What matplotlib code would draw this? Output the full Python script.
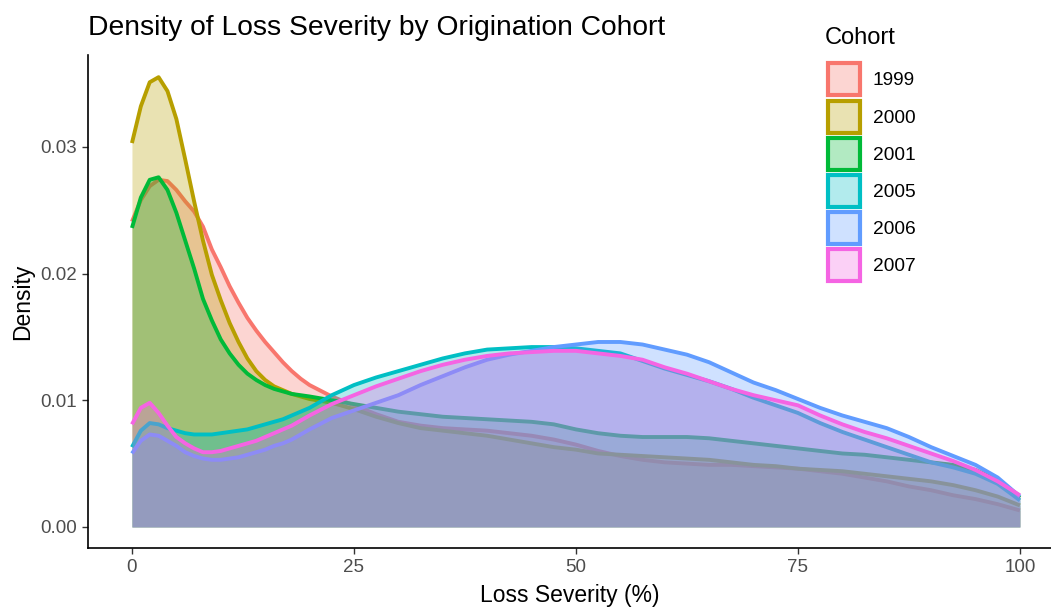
import matplotlib
matplotlib.use("Agg")
import matplotlib.pyplot as plt
import matplotlib.colors as mcolors
from matplotlib.patches import Patch

plt.rcParams['font.family'] = ['Liberation Sans', 'DejaVu Sans']

# ---- data ----
loss_severity = [0, 1, 2, 3, 4, 5, 6, 7, 8, 9, 10, 11, 12, 13, 14, 15, 16, 17, 18, 19, 20,
                 22.5, 25, 27.5, 30, 32.5, 35, 37.5, 40, 42.5, 45, 47.5, 50, 52.5, 55, 57.5,
                 60, 62.5, 65, 67.5, 70, 72.5, 75, 77.5, 80, 82.5, 85, 87.5, 90, 92.5, 95,
                 97.5, 100]

cohorts = ["1999", "2000", "2001", "2005", "2006", "2007"]

density_1999 = [0.0241, 0.0258, 0.0269, 0.0274, 0.0273, 0.0266, 0.0257, 0.0249, 0.0237, 0.0219,
                0.0205, 0.0190, 0.0177, 0.0165, 0.0155, 0.0146, 0.0138, 0.0130, 0.0123, 0.0117,
                0.0112, 0.0103, 0.0096, 0.0089, 0.0083, 0.0080, 0.0078, 0.0077, 0.0076, 0.0074,
                0.0072, 0.0069, 0.0065, 0.0060, 0.0056, 0.0053, 0.0051, 0.0050, 0.0049, 0.0049,
                0.0048, 0.0047, 0.0046, 0.0044, 0.0042, 0.0039, 0.0036, 0.0032, 0.0029, 0.0025,
                0.0022, 0.0018, 0.0013]

density_2000 = [0.0303, 0.0332, 0.0351, 0.0355, 0.0344, 0.0322, 0.0290, 0.0257, 0.0226, 0.0199,
                0.0179, 0.0161, 0.0146, 0.0133, 0.0123, 0.0116, 0.0111, 0.0108, 0.0105, 0.0103,
                0.0101, 0.0098, 0.0093, 0.0087, 0.0082, 0.0078, 0.0076, 0.0074, 0.0072, 0.0069,
                0.0066, 0.0063, 0.0061, 0.0058, 0.0057, 0.0056, 0.0055, 0.0054, 0.0053, 0.0051,
                0.0049, 0.0048, 0.0046, 0.0045, 0.0044, 0.0042, 0.0040, 0.0038, 0.0036, 0.0033,
                0.0029, 0.0024, 0.0017]

density_2001 = [0.0236, 0.0260, 0.0274, 0.0276, 0.0266, 0.0248, 0.0226, 0.0204, 0.0180, 0.0163,
                0.0148, 0.0137, 0.0128, 0.0121, 0.0116, 0.0112, 0.0109, 0.0107, 0.0105, 0.0104,
                0.0103, 0.0100, 0.0097, 0.0094, 0.0091, 0.0089, 0.0087, 0.0086, 0.0085, 0.0084,
                0.0083, 0.0081, 0.0077, 0.0074, 0.0072, 0.0071, 0.0071, 0.0071, 0.0070, 0.0068,
                0.0066, 0.0064, 0.0062, 0.0060, 0.0058, 0.0057, 0.0055, 0.0053, 0.0051, 0.0049,
                0.0045, 0.0037, 0.0023]

density_2005 = [0.0063, 0.0076, 0.0082, 0.0081, 0.0078, 0.0076, 0.0074, 0.0073, 0.0073, 0.0073,
                0.0074, 0.0075, 0.0076, 0.0077, 0.0079, 0.0081, 0.0083, 0.0085, 0.0088, 0.0091,
                0.0094, 0.0104, 0.0112, 0.0118, 0.0123, 0.0128, 0.0133, 0.0137, 0.0140, 0.0141,
                0.0142, 0.0142, 0.0141, 0.0139, 0.0137, 0.0131, 0.0125, 0.0120, 0.0115, 0.0109,
                0.0102, 0.0096, 0.0090, 0.0082, 0.0075, 0.0069, 0.0063, 0.0057, 0.0051, 0.0047,
                0.0042, 0.0034, 0.0021]

density_2006 = [0.0058, 0.0068, 0.0073, 0.0072, 0.0068, 0.0064, 0.0059, 0.0056, 0.0054, 0.0053,
                0.0053, 0.0054, 0.0055, 0.0057, 0.0059, 0.0061, 0.0064, 0.0066, 0.0069, 0.0073,
                0.0077, 0.0086, 0.0092, 0.0098, 0.0104, 0.0112, 0.0119, 0.0126, 0.0132, 0.0136,
                0.0139, 0.0142, 0.0144, 0.0146, 0.0146, 0.0144, 0.0140, 0.0136, 0.0130, 0.0122,
                0.0114, 0.0108, 0.0101, 0.0094, 0.0088, 0.0083, 0.0078, 0.0071, 0.0063, 0.0056,
                0.0049, 0.0039, 0.0024]

density_2007 = [0.0081, 0.0094, 0.0098, 0.0090, 0.0080, 0.0071, 0.0066, 0.0062, 0.0059, 0.0059,
                0.0060, 0.0062, 0.0064, 0.0066, 0.0068, 0.0071, 0.0074, 0.0077, 0.0080, 0.0084,
                0.0088, 0.0097, 0.0104, 0.0111, 0.0117, 0.0123, 0.0128, 0.0132, 0.0135, 0.0137,
                0.0138, 0.0139, 0.0139, 0.0137, 0.0135, 0.0132, 0.0126, 0.0121, 0.0115, 0.0109,
                0.0104, 0.0100, 0.0096, 0.0088, 0.0081, 0.0075, 0.0070, 0.0064, 0.0058, 0.0052,
                0.0045, 0.0036, 0.0025]

x_ticks = [0, 25, 50, 75, 100]
x_tick_labels = ["0", "25", "50", "75", "100"]
y_ticks = [0.00, 0.01, 0.02, 0.03]
y_tick_labels = ["0.00", "0.01", "0.02", "0.03"]

colors = ["#F8766D", "#B79F00", "#00BA38", "#00BFC4", "#619CFF", "#F564E3"]
series = [density_1999, density_2000, density_2001, density_2005, density_2006, density_2007]

# ---- figure ----
W, H = 1051, 609
fig = plt.figure(figsize=(W / 100, H / 100), dpi=100)
left_px, right_px, top_px, bottom_px = 88, 1051, 55, 548
ax = fig.add_axes([left_px / W, 1 - bottom_px / H, (right_px - left_px) / W, (bottom_px - top_px) / H])

for i, (ys, c) in enumerate(zip(series, colors)):
    ax.fill_between(loss_severity, 0, ys, color=c, alpha=0.3, linewidth=0, zorder=2 * i + 1)
    ax.plot(loss_severity, ys, color=c, linewidth=2.8, solid_capstyle='butt',
            solid_joinstyle='round', zorder=2 * i + 2)

ax.set_xlim(-4.95, 103.5)
ax.set_ylim(-0.00166, 0.03725)
ax.set_xticks(x_ticks)
ax.set_xticklabels(x_tick_labels)
ax.set_yticks(y_ticks)
ax.set_yticklabels(y_tick_labels)

for s in ["top", "right"]:
    ax.spines[s].set_visible(False)
for s in ["left", "bottom"]:
    ax.spines[s].set_linewidth(1.2)
    ax.spines[s].set_color("black")
    ax.spines[s].set_zorder(20)
ax.tick_params(axis="both", colors="#333333", labelcolor="#4D4D4D", labelsize=13.5,
               length=4, width=1.0, direction="out", pad=4)

ax.set_xlabel("Loss Severity (%)", fontsize=16.5, color="black", labelpad=6)
ax.set_ylabel("Density", fontsize=16.5, color="black", labelpad=4)
fig.text(88 / W, 1 - 28 / H, "Density of Loss Severity by Origination Cohort",
         fontsize=20.3, color="black", ha="left", va="center")

# legend
fig.text(825 / W, 1 - 38 / H, "Cohort", fontsize=17, color="black", ha="left", va="center")
handles = []
for c in colors:
    r, g, b = mcolors.to_rgb(c)
    handles.append(Patch(facecolor=(r, g, b, 0.3), edgecolor=(r, g, b, 1.0), linewidth=3.0))
leg = fig.legend(handles, cohorts, loc="upper left", bbox_to_anchor=(827.5 / W, 1 - 63.5 / H),
                 frameon=False, fontsize=13.8,
                 handlelength=1.67, handleheight=2.19, labelspacing=0.27, handletextpad=0.7,
                 borderaxespad=0, borderpad=0)

fig.savefig("out.png", dpi=100)
